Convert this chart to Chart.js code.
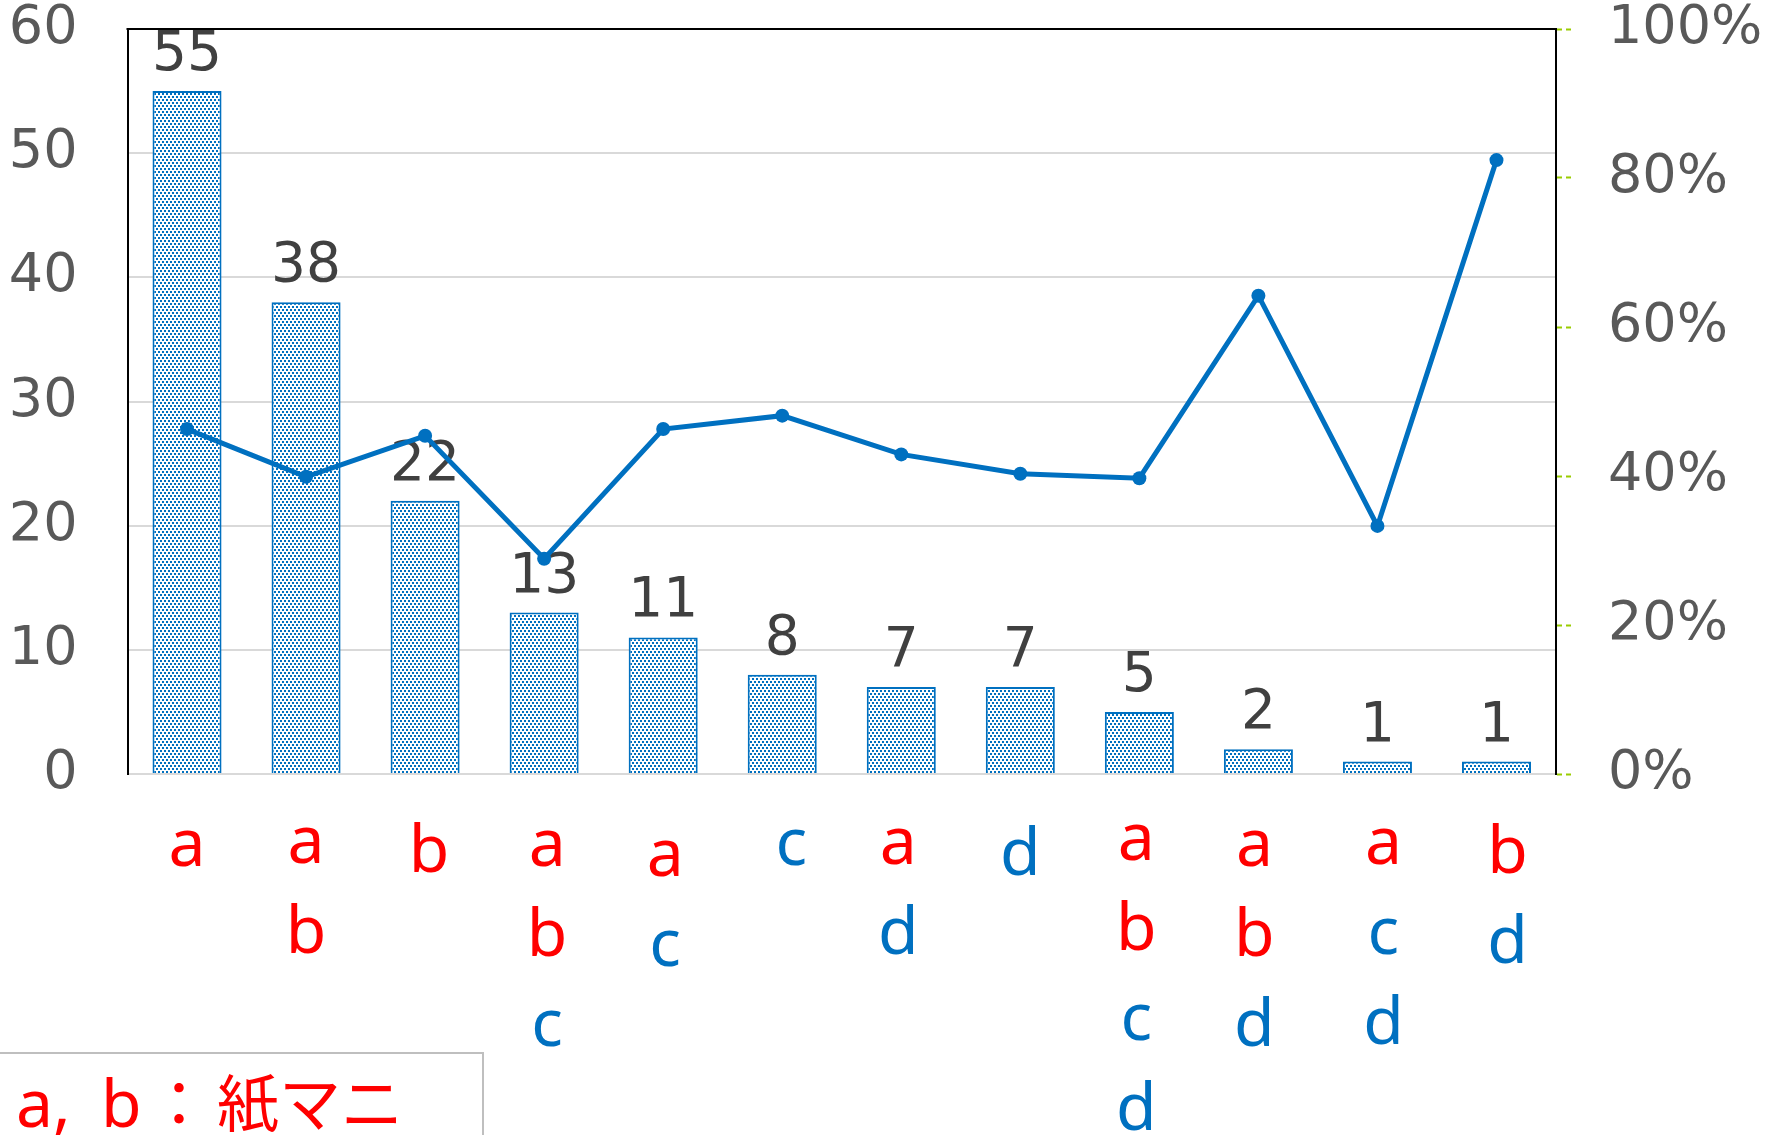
<!DOCTYPE html>
<html>
<head>
<meta charset="utf-8">
<script src="https://cdn.jsdelivr.net/npm/chart.js@4/dist/chart.umd.min.js"></script>
<style>
html,body{margin:0;padding:0;background:#fff;overflow:hidden}
#wrap{position:relative;width:1785px;height:1135px}
canvas{position:absolute;left:0;top:0}
</style>
</head>
<body>
<div id="wrap"><canvas id="c" width="1785" height="1135"></canvas></div>
<script>
// ---- data ----
const categories = [['a'],['a','b'],['b'],['a','b','c'],['a','c'],['c'],['a','d'],['d'],['a','b','c','d'],['a','b','d'],['a','c','d'],['b','d']];
const counts = [55,38,22,13,11,8,7,7,5,2,1,1];
const ratios = [46.3,39.9,45.4,28.9,46.3,48.1,42.9,40.3,39.7,64.2,33.3,82.4];
const leftTickValues = [0,10,20,30,40,50,60];
const rightTickValues = [0,20,40,60,80,100];
const legendLabel = 'a, b ： 紙マニ';

// ---- styles ----
const BLUE = '#0070c0', RED = '#ff0000';
const letterColor = {a: RED, b: RED, c: BLUE, d: BLUE};
const labelDx = [0,0,4,3,2,9,-3,0,-3,-4,6,11];
const labelDy = [0,-3,6,0,10,-1,-2,9,-6,0,-2,7];
const NUM_FONT = '55px "DejaVu Sans"';
const LETTER_FONT = '66px "Noto Sans", "Noto Sans CJK JP"';
const CJK_FONT = '62px "Noto Sans CJK JP"';
const legendPartX = [16, 101, 148, 217];
const legendPartFont = [LETTER_FONT, LETTER_FONT, CJK_FONT, CJK_FONT];

function makePattern(){
  const c = document.createElement('canvas');
  c.width = 4; c.height = 6;
  const g = c.getContext('2d');
  g.fillStyle = '#ffffff'; g.fillRect(0,0,4,6);
  g.fillStyle = BLUE; g.fillRect(0,0,2,2); g.fillRect(2,3,2,2);
  return g.createPattern(c,'repeat');
}

const decor = {
  id: 'decor',
  beforeDraw(chart){
    const {ctx, chartArea:a} = chart;
    ctx.save();
    ctx.strokeStyle = '#99cc00'; ctx.lineWidth = 2;
    ctx.beginPath(); ctx.moveTo(a.right, a.top); ctx.lineTo(a.right, a.bottom); ctx.stroke();
    ctx.restore();
  },
  beforeDatasetsDraw(chart){
    const {ctx, chartArea:a} = chart;
    ctx.save();
    ctx.strokeStyle = '#000'; ctx.lineWidth = 2;
    ctx.beginPath(); ctx.moveTo(a.left-1, a.top); ctx.lineTo(a.right, a.top); ctx.stroke();
    ctx.restore();
  },
  afterDatasetDraw(chart, args){
    if (args.meta.type !== 'bar') return;
    const ctx = chart.ctx;
    ctx.save();
    ctx.font = NUM_FONT; ctx.fillStyle = '#404040';
    ctx.textAlign = 'center'; ctx.textBaseline = 'alphabetic';
    args.meta.data.forEach((el, i) => {
      ctx.fillText(String(counts[i]), el.x, el.y - 21);
    });
    ctx.restore();
  },
  afterDraw(chart){
    const ctx = chart.ctx, xs = chart.scales.x;
    ctx.save();
    ctx.font = LETTER_FONT; ctx.textAlign = 'center'; ctx.textBaseline = 'alphabetic';
    categories.forEach((lines, i) => {
      const x = xs.getPixelForValue(i) + labelDx[i];
      lines.forEach((ch, k) => {
        ctx.fillStyle = letterColor[ch];
        ctx.fillText(ch, x, 866 + labelDy[i] + 90*k);
      });
    });
    // legend box
    ctx.strokeStyle = '#bfbfbf'; ctx.lineWidth = 2;
    ctx.beginPath(); ctx.moveTo(-2, 1053); ctx.lineTo(483, 1053); ctx.lineTo(483, 1140); ctx.stroke();
    ctx.fillStyle = RED; ctx.textAlign = 'left';
    legendLabel.split(' ').forEach((part, j) => {
      ctx.font = legendPartFont[j];
      ctx.fillText(part, legendPartX[j], 1127);
    });
    ctx.restore();
  }
};

function noVPad(s){ s.paddingTop = 0; s.paddingBottom = 0; }

new Chart(document.getElementById('c').getContext('2d'), {
  data: {
    labels: categories.map(c => c.join('')),
    datasets: [
      {type:'bar', data: counts, yAxisID:'y', order:2,
       backgroundColor: makePattern(), borderColor: BLUE, borderWidth: 2,
       barPercentage: 0.58, categoryPercentage: 1},
      {type:'line', data: ratios, yAxisID:'y1', order:1,
       borderColor: BLUE, borderWidth: 5, tension: 0,
       pointRadius: 7, pointBackgroundColor: BLUE, pointBorderWidth: 0}
    ]
  },
  options: {
    responsive: false, animation: false, events: [],
    layout: {padding: {top: 29, bottom: 361, left: 0, right: 0}},
    plugins: {legend: {display: false}, tooltip: {enabled: false}},
    scales: {
      x: {grid: {display: false, drawTicks: false}, ticks: {display: false},
          border: {color: '#d9d9d9', width: 2}},
      y: {position: 'left', min: 0, max: 60,
          afterBuildTicks(s){ s.ticks = leftTickValues.map(v => ({value: v})); },
          ticks: {padding: 50, color: '#595959', font: {family: 'DejaVu Sans', size: 54, lineHeight: 1}},
          grid: {color: '#d9d9d9', lineWidth: 2, drawTicks: false},
          border: {color: '#000', width: 2},
          afterFit(s){ s.width = 127.5; noVPad(s); }},
      y1: {position: 'right', min: 0, max: 100,
          afterBuildTicks(s){ s.ticks = rightTickValues.map(v => ({value: v})); },
          ticks: {padding: 33, color: '#595959', font: {family: 'DejaVu Sans', size: 54, lineHeight: 1},
                  callback: v => v + '%'},
          grid: {drawOnChartArea: false, color: '#99cc00', tickLength: 19, tickWidth: 2, tickBorderDash: [5,4]},
          border: {color: '#000', width: 2, dash: [5,5]},
          afterFit(s){ s.width = 229; noVPad(s); }}
    }
  },
  plugins: [decor]
});
</script>
</body>
</html>
